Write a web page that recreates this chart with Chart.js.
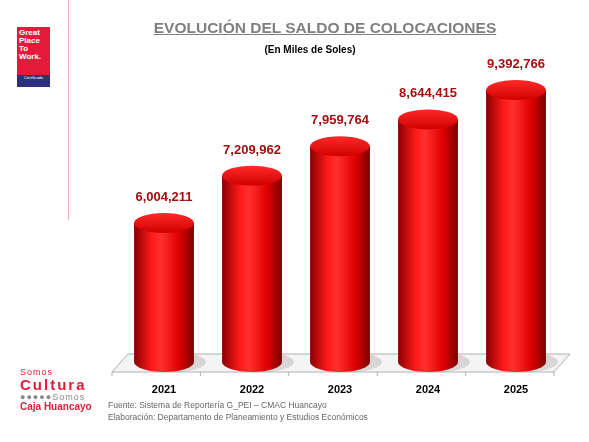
<!DOCTYPE html>
<html><head><meta charset="utf-8">
<script src="https://cdn.jsdelivr.net/npm/chart.js@4"></script>
<style>
body{margin:0;width:589px;height:442px;overflow:hidden;background:#fff;font-family:"Liberation Sans",Arial,sans-serif;position:relative}
#wrap{position:absolute;left:0;top:0;width:589px;height:442px}
.t{position:absolute;white-space:nowrap}
#title{left:0;width:650px;top:19px;text-align:center;font-size:15.5px;font-weight:bold;color:#7f7f7f;text-decoration:underline}
#sub{left:0;width:620px;top:44px;text-align:center;font-size:10px;font-weight:bold}
#foot{left:108px;top:399px;font-size:8.5px;color:#666;line-height:12px}
#badge{left:17px;top:27px;width:33px;height:48px;background:#e31b3a;color:#fff;font-size:8px;font-weight:bold;line-height:8px;padding:2px 0 0 2px;box-sizing:border-box}
#badge2{left:17px;top:75px;width:33px;height:12px;background:#2e2f7f;color:#fff;font-size:4px;text-align:center}
#vline{left:68px;top:0;width:1px;height:220px;background:#f0b0b0}
#cult{left:20px;top:367px;color:#e31b3a;font-size:9px;line-height:10px}
</style></head><body>
<div id="wrap"><canvas id="c" width="589" height="442"></canvas></div>
<div class="t" id="title">EVOLUCIÓN DEL SALDO DE COLOCACIONES</div>
<div class="t" id="sub">(En Miles de Soles)</div>
<div class="t" id="badge">Great<br>Place<br>To<br>Work.</div>
<div class="t" id="badge2">Certificado</div>
<div class="t" id="vline"></div>
<div class="t" id="cult"><span style="letter-spacing:1px">Somos</span><br><span style="font-size:15px;font-weight:bold;letter-spacing:2px;line-height:15px">Cultura</span><br><span style="color:#888;letter-spacing:1px">●●●●●Somos</span><br><b style="font-size:10px">Caja Huancayo</b></div>
<div class="t" id="foot">Fuente: Sistema de Reportería G_PEI – CMAC Huancayo<br>Elaboración: Departamento de Planeamiento y Estudios Económicos</div>
<script>
const anios = ["2021", "2022", "2023", "2024", "2025"];
const saldos = [6004211, 7209962, 7959764, 8644415, 9392766];

const cilindros = {
  id: "cilindros",
  beforeDatasetsDraw(chart) {
    const ctx = chart.ctx, a = chart.chartArea;
    // piso 3D
    ctx.save();
    ctx.fillStyle = "#f4f4f4";
    ctx.strokeStyle = "#b0b0b0";
    ctx.lineWidth = 1;
    ctx.beginPath();
    ctx.moveTo(a.left + 8, a.bottom - 8);
    ctx.lineTo(a.right + 10, a.bottom - 8);
    ctx.lineTo(a.right - 6, a.bottom + 10);
    ctx.lineTo(a.left - 8, a.bottom + 10);
    ctx.closePath();
    ctx.fill(); ctx.stroke();
    const xs = chart.scales.x;
    for (let i = 0; i <= anios.length; i++) {
      const x = a.left - 8 + i * (a.right - a.left + 2) / anios.length;
      ctx.beginPath(); ctx.moveTo(x, a.bottom + 10); ctx.lineTo(x, a.bottom + 14); ctx.stroke();
    }
    ctx.fillStyle = "#000";
    ctx.font = "bold 11px 'Liberation Sans', Arial";
    ctx.textAlign = "center";
    anios.forEach((y, i) => ctx.fillText(y, xs.getPixelForValue(i), a.bottom + 31));
    ctx.restore();
  },
  afterDatasetsDraw(chart) {
    const ctx = chart.ctx;
    chart.getDatasetMeta(0).data.forEach((bar, i) => {
      const w = bar.width, x0 = bar.x - w / 2, ry = 10;
      const top = bar.y, base = chart.chartArea.bottom;
      ctx.save();
      // sombra
      ctx.fillStyle = "rgba(0,0,0,0.12)";
      ctx.beginPath(); ctx.ellipse(bar.x + 8, base, w / 2 + 4, ry, 0, 0, Math.PI * 2); ctx.fill();
      const g = ctx.createLinearGradient(x0, 0, x0 + w, 0);
      g.addColorStop(0, "#8a0000");
      g.addColorStop(0.3, "#ff1a1a");
      g.addColorStop(0.45, "#ff3030");
      g.addColorStop(0.75, "#e00000");
      g.addColorStop(1, "#7a0000");
      ctx.fillStyle = g;
      ctx.beginPath();
      ctx.moveTo(x0, top);
      ctx.lineTo(x0, base);
      ctx.ellipse(bar.x, base, w / 2, ry, 0, Math.PI, 0, true);
      ctx.lineTo(x0 + w, top);
      ctx.closePath();
      ctx.fill();
      const gt = ctx.createLinearGradient(0, top - ry, 0, top + ry);
      gt.addColorStop(0, "#ff2a2a");
      gt.addColorStop(1, "#d00000");
      ctx.fillStyle = gt;
      ctx.beginPath(); ctx.ellipse(bar.x, top, w / 2, ry, 0, 0, Math.PI * 2); ctx.fill();
      ctx.fillStyle = "#a30f0f";
      ctx.font = "bold 13px 'Liberation Sans', Arial";
      ctx.textAlign = "center";
      ctx.fillText(saldos[i].toLocaleString("en-US"), bar.x, top - ry - 12);
      ctx.restore();
    });
  }
};

new Chart(document.getElementById("c"), {
  type: "bar",
  data: { labels: anios, datasets: [{ data: saldos, backgroundColor: "rgba(0,0,0,0)", barPercentage: 0.68, categoryPercentage: 1 }] },
  options: {
    responsive: false, animation: false,
    layout: { padding: { left: 120, right: 29, top: 69, bottom: 80 } },
    plugins: { legend: { display: false }, tooltip: { enabled: false } },
    scales: {
      x: { display: false },
      y: { display: false, min: 2460000, max: 9930000 }
    }
  },
  plugins: [cilindros]
});
</script>
</body></html>
